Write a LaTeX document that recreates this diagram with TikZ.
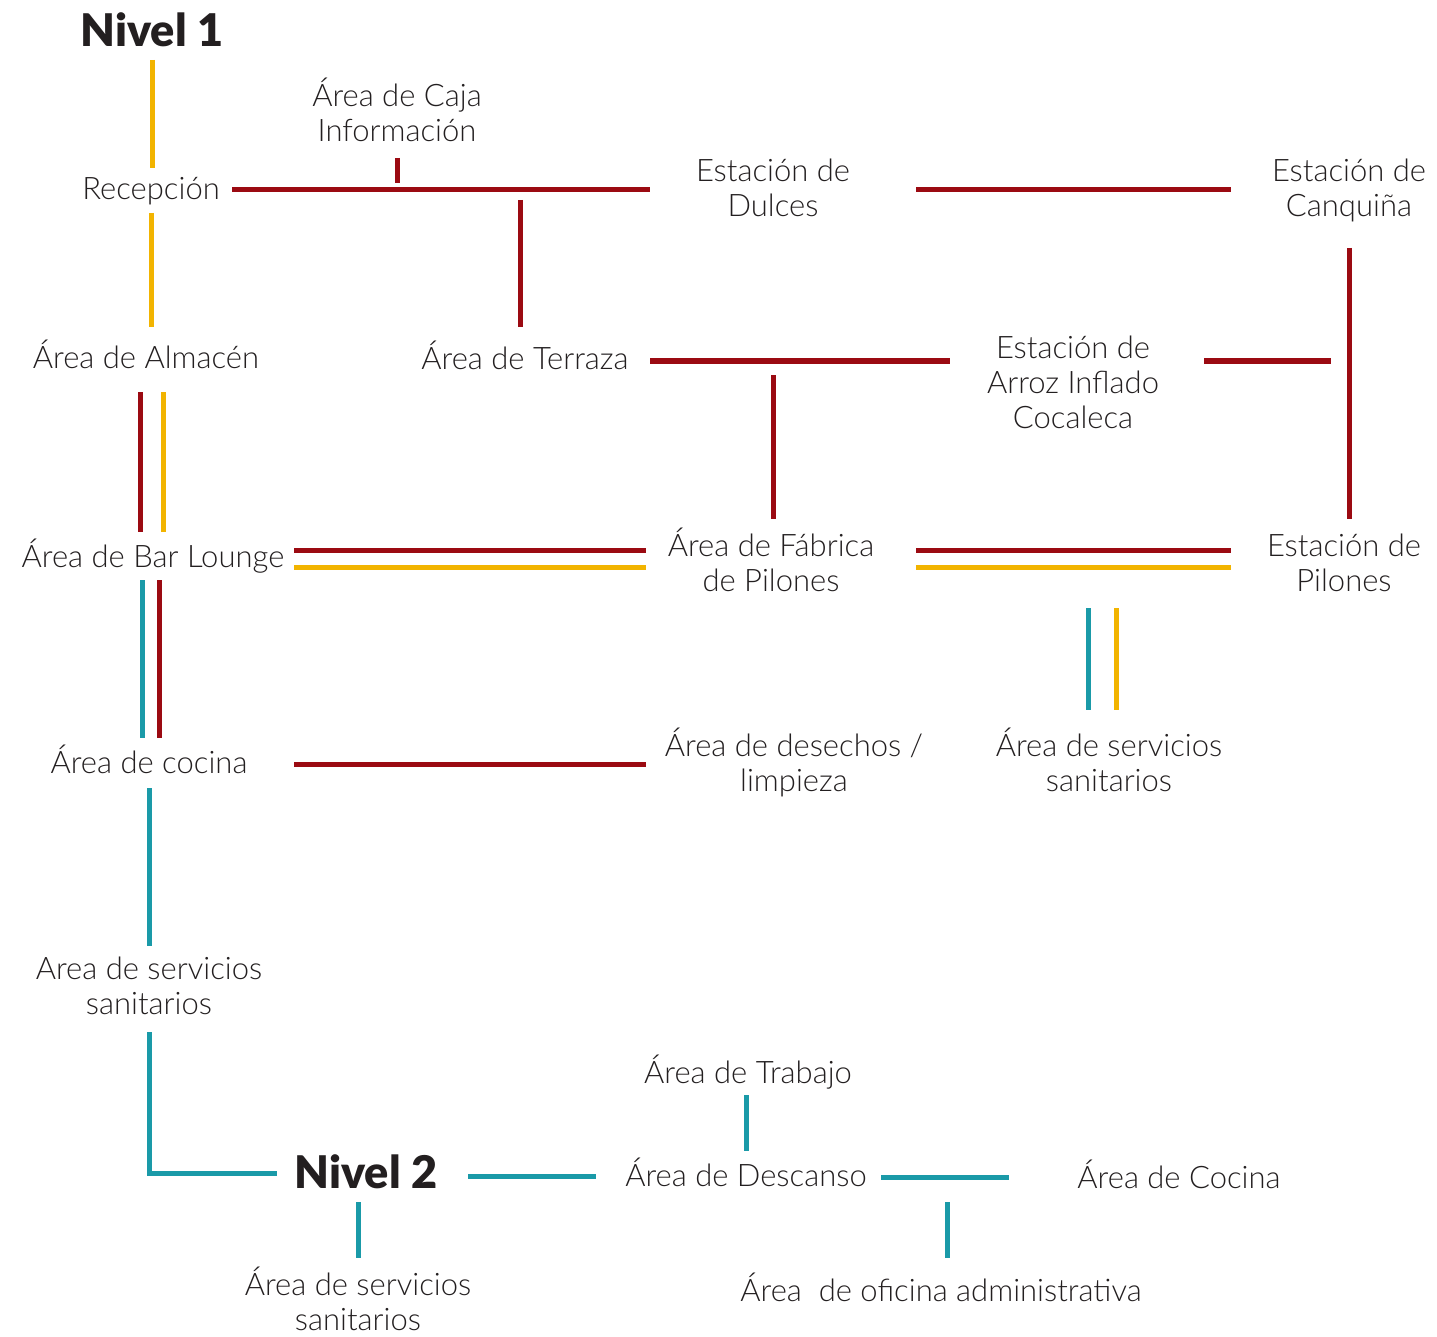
\documentclass[tikz,border=0pt]{standalone}
\usepackage{fontspec}
\setmainfont{Lato}[UprightFont=* Light, BoldFont=* Black]
\definecolor{vino}{HTML}{9B0A12}
\definecolor{oro}{HTML}{F2B400}
\definecolor{turq}{HTML}{1A9AA8}
\definecolor{tinta}{HTML}{231F20}
\begin{document}
\begin{tikzpicture}[x=1pt,y=-1pt,
  lbl/.style={align=center, inner sep=0pt, anchor=base, text=tinta,
    font=\fontsize{31}{35}\selectfont},
  nivel/.style={inner sep=0pt, anchor=base, text=tinta,
    font=\fontsize{45}{50}\selectfont\bfseries},
  vlin/.style={line width=5pt, draw=vino},
  olin/.style={line width=5pt, draw=oro},
  tlin/.style={line width=5pt, draw=turq}]
\useasboundingbox[fill=white] (0,0) rectangle (1437,1337);

% ---- Nivel 1 ----
% (the base anchor of a multi-line label sits on its last line)
\node[nivel] (n1) at (152,47) {Nivel 1};
\node[lbl] (caja) at (397,142) {Área de Caja\\Información};
\node[lbl] (recep) at (151,200) {Recepción};
\node[lbl] (dulces) at (773,217) {Estación de\\Dulces};
\node[lbl] (canq) at (1349,217) {Estación de\\Canquiña};
\node[lbl] (alm) at (146,368) {Área de Almacén};
\node[lbl] (terr) at (525,370) {Área de Terraza};
\node[lbl] (arroz) at (1073,428) {Estación de\\Arroz Inflado\\Cocaleca};
\node[lbl] (bar) at (153,567) {Área de Bar Lounge};
\node[lbl] (fabr) at (771,591) {Área de Fábrica\\de Pilones};
\node[lbl] (epil) at (1344,591) {Estación de\\Pilones};
\node[lbl] (coc1) at (149,773) {Área de cocina};
\node[lbl] (dese) at (794,791) {Área de desechos /\\limpieza};
\node[lbl] (sani1) at (1109,791) {Área de servicios\\sanitarios};
\node[lbl] (sani0) at (149,1014) {Area de servicios\\sanitarios};

% ---- Nivel 2 ----
\node[nivel] (n2) at (366,1188) {Nivel 2};
\node[lbl] (trab) at (748,1083) {Área de Trabajo};
\node[lbl] (desc) at (746,1186) {Área de Descanso};
\node[lbl] (coc2) at (1179,1188) {Área de Cocina};
\node[lbl] (sani2) at (358,1330) {Área de servicios\\sanitarios};
\node[lbl] (ofi) at (941,1301) {Área~ de oficina administrativa};

% ---- connectors, level 1 ----
\draw[olin] (152,60) -- (152,168);
\draw[olin] (151,213) -- (151,327);
\draw[vlin] (232,190) -- (650,190);
\draw[vlin] (397,158) -- (397,183);
\draw[vlin] (520,200) -- (520,327);
\draw[vlin] (916,190) -- (1231,190);
\draw[vlin] (1349,248) -- (1349,519);
\draw[vlin] (650,361) -- (950,361);
\draw[vlin] (773,375) -- (773,519);
\draw[vlin] (1204,361) -- (1331,361);
\draw[vlin] (140,392) -- (140,532);
\draw[olin] (163,392) -- (163,532);
\draw[vlin] (294,550) -- (646,550);
\draw[olin] (294,567) -- (646,567);
\draw[vlin] (916,550) -- (1231,550);
\draw[olin] (916,567) -- (1231,567);
\draw[tlin] (1088,608) -- (1088,710);
\draw[olin] (1116,608) -- (1116,710);
\draw[tlin] (142,580) -- (142,738);
\draw[vlin] (159,580) -- (159,738);
\draw[vlin] (294,764) -- (646,764);
\draw[tlin] (149,788) -- (149,946);

% ---- connectors, level 2 ----
\draw[tlin] (149,1032) -- (149,1173) -- (277,1173);
\draw[tlin] (358,1202) -- (358,1258);
\draw[tlin] (468,1176) -- (596,1176);
\draw[tlin] (746,1095) -- (746,1151);
\draw[tlin] (881,1177) -- (1009,1177);
\draw[tlin] (947,1202) -- (947,1258);
\end{tikzpicture}
\end{document}
